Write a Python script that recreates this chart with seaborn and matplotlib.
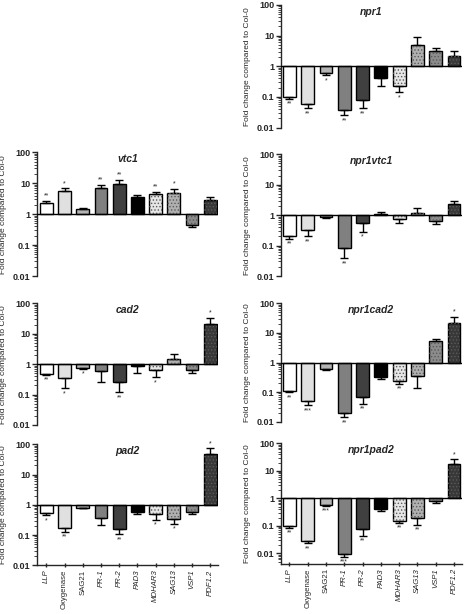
import numpy as np
import pandas as pd
import matplotlib
matplotlib.use('Agg')
import matplotlib.pyplot as plt
import seaborn as sns
from matplotlib.patches import Rectangle

# Genes en el eje x
genes = ['LLP', 'Oxygenase', 'SAG21', 'PR-1', 'PR-2', 'PAD3', 'MDHAR3', 'SAG13', 'VSP1', 'PDF1.2']
colores = ['#ffffff', '#e0e0e0', '#b3b3b3', '#808080', '#404040', '#000000',
           '#e6e6e6', '#b0b0b0', '#8c8c8c', '#383838']
punteados = ['MDHAR3', 'SAG13', 'VSP1', 'PDF1.2']
cursivas = [True, False, False, True, True, True, True, True, True, True]

# Fold change (valor de la barra) y extremo de la barra de error
npr1 = [0.096, 0.06, 0.6, 0.036, 0.077, 0.4, 0.22, 4.9, 3.1, 2.1]
npr1_err = [0.085, 0.043, 0.5, 0.025, 0.043, 0.22, 0.14, 8.9, 3.8, 3.1]
npr1_sig = ['**', '**', '*', '**', '**', '', '*', '', '', '']

vtc1 = [2.3, 5.5, 1.47, 6.9, 9.6, 3.6, 4.5, 4.9, 0.46, 2.96]
vtc1_err = [2.7, 6.9, 1.55, 9.0, 12.9, 4.2, 5.4, 6.5, 0.39, 3.6]
vtc1_sig = ['**', '*', '', '**', '**', '', '**', '*', '', '']

npr1vtc1 = [0.2, 0.33, 0.84, 0.082, 0.57, 1.1, 0.74, 1.16, 0.63, 2.4]
npr1vtc1_err = [0.166, 0.2, 0.8, 0.038, 0.29, 1.25, 0.55, 1.66, 0.52, 2.9]
npr1vtc1_sig = ['**', '**', '', '**', '*', '', '', '', '', '']

cad2 = [0.49, 0.36, 0.76, 0.59, 0.26, 0.86, 0.64, 1.46, 0.64, 21.5]
cad2_err = [0.44, 0.16, 0.70, 0.25, 0.12, 0.53, 0.37, 2.1, 0.53, 34]
cad2_sig = ['**', '*', '*', '', '**', '', '*', '', '', '*']

npr1cad2 = [0.105, 0.05, 0.6, 0.02, 0.068, 0.32, 0.23, 0.34, 5.4, 21.5]
npr1cad2_err = [0.097, 0.036, 0.57, 0.014, 0.04, 0.27, 0.19, 0.135, 6.4, 35]
npr1cad2_sig = ['**', '***', '', '**', '**', '', '**', '', '', '*']

pad2 = [0.54, 0.17, 0.8, 0.37, 0.154, 0.57, 0.48, 0.35, 0.57, 48]
pad2_err = [0.45, 0.13, 0.76, 0.21, 0.105, 0.5, 0.32, 0.24, 0.5, 73]
pad2_sig = ['*', '**', '', '', '**', '', '*', '*', '', '*']

npr1pad2 = [0.1, 0.029, 0.59, 0.0092, 0.074, 0.42, 0.15, 0.19, 0.82, 17.5]
npr1pad2_err = [0.085, 0.023, 0.54, 0.0076, 0.043, 0.34, 0.13, 0.11, 0.68, 26.5]
npr1pad2_sig = ['**', '**', '***', '***', '**', '', '**', '**', '', '*']

sns.set_style('ticks')
plt.rcParams['font.family'] = ['Liberation Sans', 'DejaVu Sans']
plt.rcParams['hatch.linewidth'] = 0.6

fig = plt.figure(figsize=(4.65, 6.14), dpi=100)


def panel(rect, titulo, vals, errs, sig, xlim, ymin=-2, abajo=False):
    ax = fig.add_axes(rect)
    df = pd.DataFrame({'gen': genes, 'logfc': np.log10(vals)})
    sns.barplot(data=df, x='gen', y='logfc', hue='gen', order=genes,
                palette=dict(zip(genes, colores)), saturation=1, width=0.7,
                edgecolor='black', linewidth=1, legend=False, ax=ax)
    # Punteado en algunas barras
    for p, g in zip(ax.patches, genes):
        if g in punteados:
            ax.add_patch(Rectangle(p.get_xy(), p.get_width(), p.get_height(),
                                   fill=False, hatch='.....', edgecolor='#5a5a5a',
                                   linewidth=0, zorder=p.get_zorder() + 0.1))
    lv = np.log10(vals)
    le = np.log10(errs)
    x = np.arange(len(genes))
    inf = np.where(lv < 0, lv - le, 0)
    sup = np.where(lv >= 0, le - lv, 0)
    ax.errorbar(x, lv, yerr=[inf, sup], fmt='none', ecolor='black',
                elinewidth=1, capsize=3, capthick=1, zorder=1)
    for xi, v, e, s in zip(x, lv, le, sig):
        if s:
            if v < 0:
                ax.text(xi, e - 0.06, s, ha='center', va='top', fontsize=5)
            else:
                ax.text(xi, e + 0.04, s, ha='center', va='bottom', fontsize=5)
    ax.axhline(0, color='black', lw=1, zorder=3)
    ax.set_ylim(ymin, 2)
    ax.set_xlim(*xlim)
    ax.set_yticks([-2, -1, 0, 1, 2])
    ax.set_yticklabels(['0.01', '0.1', '1', '10', '100'], fontweight='bold', fontsize=6.5)
    menores = [np.log10(k * 10.0 ** n) for n in range(-3, 2) for k in range(2, 10)]
    ax.set_yticks([m for m in menores if ymin <= m <= 2], minor=True)
    ax.tick_params(axis='y', which='major', length=3.5, width=1, pad=1)
    ax.tick_params(axis='y', which='minor', length=2, width=0.6)
    ax.set_ylabel('Fold change compared to Col-0', fontsize=6, labelpad=4)
    ax.set_xlabel('')
    ax.text(0.5, 0.985, titulo, transform=ax.transAxes, ha='center', va='top',
            fontsize=7.5, fontweight='bold', fontstyle='italic')
    sns.despine(ax=ax, bottom=not abajo)
    for sp in ax.spines.values():
        sp.set_linewidth(1)
    if abajo:
        ax.set_xticks(x)
        ax.set_xticklabels(genes, rotation=90, fontsize=5.6)
        for t, c in zip(ax.get_xticklabels(), cursivas):
            t.set_fontstyle('italic' if c else 'normal')
        ax.tick_params(axis='x', length=3, width=1, direction='inout', pad=1.5)
    else:
        ax.tick_params(axis='x', bottom=False, labelbottom=False)
    return ax


xl_izq = (-0.53, 9.45)
xl_der = (-0.48, 9.42)
x_izq, w_izq = 36.7 / 465, 181.7 / 465
x_der, w_der = 280.7 / 465, 181.0 / 465


def caja(x0, w, top, bot):
    return [x0, 1 - bot / 614, w, (bot - top) / 614]


panel(caja(x_der, w_der, 5, 127.5), 'npr1', npr1, npr1_err, npr1_sig, xl_der)
panel(caja(x_izq, w_izq, 152.3, 276), 'vtc1', vtc1, vtc1_err, vtc1_sig, xl_izq)
panel(caja(x_der, w_der, 154.3, 276), 'npr1vtc1', npr1vtc1, npr1vtc1_err, npr1vtc1_sig, xl_der)
panel(caja(x_izq, w_izq, 303.3, 425), 'cad2', cad2, cad2_err, cad2_sig, xl_izq)
panel(caja(x_der, w_der, 303.3, 421.7), 'npr1cad2', npr1cad2, npr1cad2_err, npr1cad2_sig, xl_der)
panel(caja(x_izq, w_izq, 444.3, 565.3), 'pad2', pad2, pad2_err, pad2_sig, xl_izq, abajo=True)
panel(caja(x_der, w_der, 443.3, 564), 'npr1pad2', npr1pad2, npr1pad2_err, npr1pad2_sig, xl_der,
      ymin=-2.39, abajo=True)

fig.savefig('out.png', dpi=100)
